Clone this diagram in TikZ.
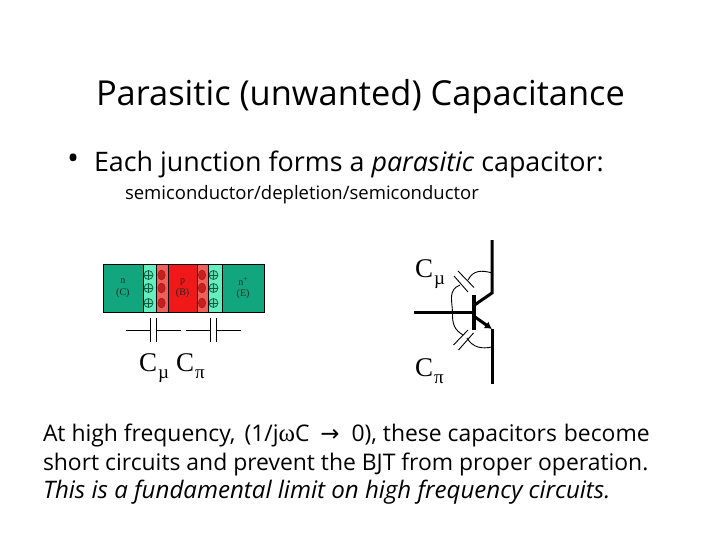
\documentclass[tikz,border=0pt]{standalone}
\usepackage{fontspec}
\setmainfont{Open Sans}
\newfontfamily\symf{Liberation Serif}
\newfontfamily\arrowf{DejaVu Sans}
\usetikzlibrary{arrows.meta,shapes.geometric}
\definecolor{ngreen}{HTML}{12A67F}
\definecolor{lgreen}{HTML}{66EEC0}
\definecolor{salmon}{HTML}{F0605A}
\definecolor{pred}{HTML}{F01818}
\definecolor{dred}{HTML}{C81E1E}
\definecolor{dgreen}{HTML}{0E5A40}
\newcommand{\subsym}[1]{\hspace{1pt}\raisebox{-7pt}{\fontsize{19}{20}\selectfont #1}}
\tikzset{
  x=1pt,y=-1pt,
  txt/.style={anchor=base west,inner sep=0pt,outer sep=0pt,text=black},
  region/.style={draw=black,line width=0.7pt,minimum height=48pt,inner sep=0pt,anchor=north west},
  small/.style={font=\symf\fontsize{10}{11.5}\selectfont,align=center,inner sep=0pt,text=black!85},
  plus/.style={circle,draw=dgreen,line width=0.7pt,minimum size=9pt,inner sep=0pt,fill=lgreen!80!ngreen,
    path picture={\draw[dgreen,line width=0.7pt] (path picture bounding box.north) -- (path picture bounding box.south) (path picture bounding box.west) -- (path picture bounding box.east);}},
  minus/.style={ellipse,fill=dred,draw=dred!80!black,minimum width=7.5pt,minimum height=10pt,inner sep=0pt},
  wire/.style={draw=black,line width=1pt},
  bjt/.style={draw=black,line width=3pt},
  thin/.style={draw=black,line width=0.9pt},
  sym/.style={font=\symf\fontsize{27}{30}\selectfont,anchor=base west,inner sep=0pt},
}
\begin{document}
\begin{tikzpicture}
\useasboundingbox (0,0) rectangle (720,540);
\fill[white] (0,0) rectangle (720,540);
% texts
\node[txt,font=\fontsize{34.4}{38}\selectfont] (title) at (96,106) {Parasitic (unwanted) Capacitance};
\node[txt,font=\fontsize{32}{34}\selectfont] (bul) at (67,170) {•};
\node[txt,font=\fontsize{26.85}{30}\selectfont] (l1) at (94,172) {Each junction forms a \textit{parasitic} capacitor:};
\node[txt,font=\fontsize{18.5}{22}\selectfont] (l2) at (125,200) {semiconductor/depletion/semiconductor};
\node[txt,font=\fontsize{22.9}{26}\selectfont] (b1) at (43,441) {At high frequency,\hspace{3pt} (1/j{\symf\fontsize{25}{26}\selectfont ω}C\hspace{5pt} {\arrowf →}\hspace{6pt} 0), these capacitors\hspace{1pt} become};
\node[txt,font=\fontsize{22.9}{26}\selectfont] (b2) at (43,470) {short circuits and prevent the BJT from proper operation.};
\node[txt,font=\itshape\fontsize{24.1}{28}\selectfont] (b3) at (43,498) {This is a fundamental limit on high frequency circuits.};
% junction
\node[region,fill=ngreen,minimum width=40pt] (rn) at (102.5,264) {};
\node[region,fill=lgreen,minimum width=13.5pt] (rl1) at (142.5,264) {};
\node[region,fill=salmon,minimum width=11.5pt] (rs1) at (156,264) {};
\node[region,fill=pred,minimum width=29.5pt] (rp) at (167.5,264) {};
\node[region,fill=salmon,minimum width=10.5pt] (rs2) at (197,264) {};
\node[region,fill=lgreen,minimum width=14pt] (rl2) at (207.5,264) {};
\node[region,fill=ngreen,minimum width=42.5pt] (rne) at (221.5,264) {};
\node[small] (tn) at (rn) {n\\(C)};
\node[small] (tp) at (rp) {p\\(B)};
\node[small] (te) at (rne) {n\textsuperscript{+}\\(E)};
\foreach \y/\i in {275/a,288/b,303/c}{
  \node[plus] (pa\i) at (148.5,\y) {};
  \node[minus] (ma\i) at (161.5,\y) {};
  \node[minus] (mb\i) at (202,\y) {};
  \node[plus] (pb\i) at (213.5,\y) {};
}
% capacitors
\coordinate (c1l) at (126,330); \coordinate (c1a) at (150.5,330); \coordinate (c1b) at (156,330); \coordinate (c1r) at (181,330);
\coordinate (c2l) at (186,330); \coordinate (c2a) at (210,330); \coordinate (c2b) at (216,330); \coordinate (c2r) at (241,330);
\draw[wire] (c1l) -- (c1a) (c1b) -- (c1r) (c2l) -- (c2a) (c2b) -- (c2r);
\draw[wire] (150.5,318) -- (150.5,342) (156,318) -- (156,342) (210,318) -- (210,342) (216,318) -- (216,342);
\node[sym] (cm1) at (139,371) {C\subsym{µ}};
\node[sym] (cp1) at (176,371) {C\subsym{π}};
\node[sym] (cm2) at (415,277) {C\subsym{µ}};
\node[sym] (cp2) at (415,376) {C\subsym{π}};
% BJT
\coordinate (ct) at (492,240); \coordinate (ck) at (492,293); \coordinate (cj) at (474.5,305);
\coordinate (bl) at (414,312); \coordinate (br) at (474,312);
\coordinate (bt) at (474,295); \coordinate (bb) at (474,330);
\coordinate (ej) at (475,317); \coordinate (ek) at (492,329); \coordinate (eb) at (492,384);
\draw[bjt] (ct) -- (ck) -- (cj);
\draw[bjt] (bl) -- (br);
\draw[bjt,line width=3.6pt] (bt) -- (bb);
\draw[bjt,-{Latex[length=7pt,width=8pt]}] (ej) -- (ek);
\draw[bjt] (ek) -- (eb);
% parasitic capacitors
\draw[thin] (458,271) -- (474,287.5) (454,276) -- (468,292);
\draw[thin] (468,330) -- (453.5,345) (473.5,333) -- (458.5,350);
\coordinate (um) at (468,280); \coordinate (lm) at (467,338);
\draw[thin] (um) .. controls (473,270) and (482,270) .. (492,273);
\draw[thin] (460,285) .. controls (448,290) and (452,300) .. (452.5,312) .. controls (452,325) and (455,330) .. (463,335);
\draw[thin] (lm) .. controls (473,348) and (482,349) .. (492,347);
\end{tikzpicture}
\end{document}
